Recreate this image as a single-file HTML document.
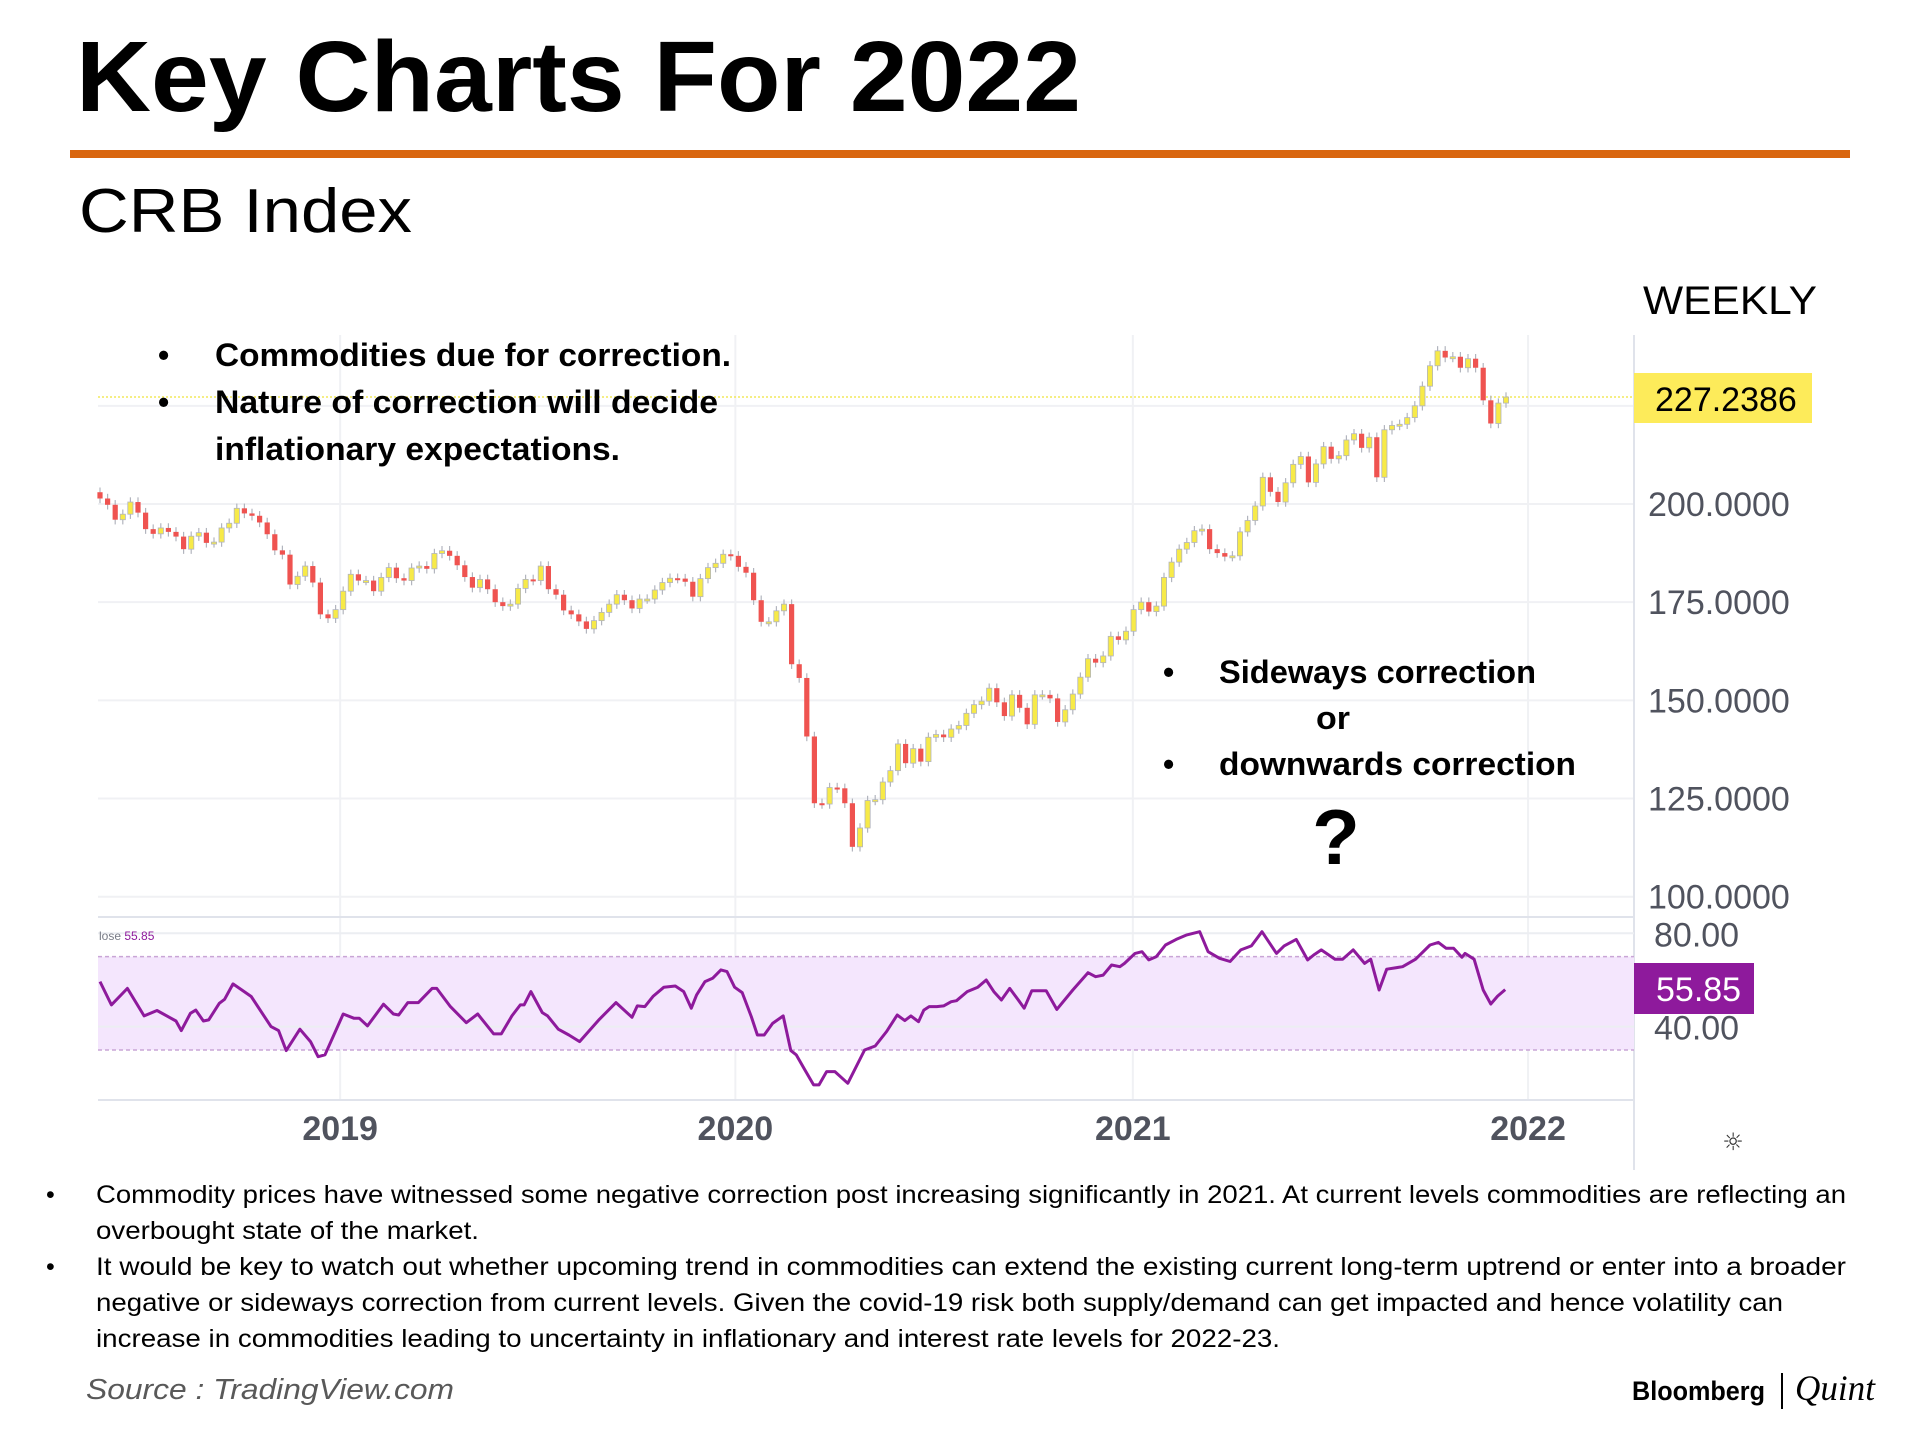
<!DOCTYPE html>
<html><head><meta charset="utf-8"><style>
html,body{margin:0;padding:0;background:#fff;}
svg{display:block;}
</style></head><body>
<svg id="root" width="1920" height="1435" viewBox="0 0 1920 1435" xmlns="http://www.w3.org/2000/svg">
<text x="76" y="111" font-family="Liberation Sans, sans-serif" font-weight="bold" font-size="100" textLength="1005" lengthAdjust="spacingAndGlyphs" fill="#000">Key Charts For 2022</text>
<rect x="70" y="150" width="1780" height="8" fill="#d9660f"/>
<text x="79" y="232" font-family="Liberation Sans, sans-serif" font-size="62" textLength="333" lengthAdjust="spacingAndGlyphs" fill="#000">CRB Index</text>
<text x="1643" y="314" font-family="Liberation Sans, sans-serif" font-size="40" textLength="174" lengthAdjust="spacingAndGlyphs" fill="#000">WEEKLY</text>
<g id="chart"></g>
<g font-family="Liberation Sans, sans-serif" font-weight="bold" font-size="32" fill="#000">
<text x="158" y="366">•</text><text x="215" y="366" textLength="516" lengthAdjust="spacingAndGlyphs">Commodities due for correction.</text>
<text x="158" y="413">•</text><text x="215" y="413" textLength="503" lengthAdjust="spacingAndGlyphs">Nature of correction will decide</text>
<text x="215" y="460" textLength="405" lengthAdjust="spacingAndGlyphs">inflationary expectations.</text>
</g>
<g font-family="Liberation Sans, sans-serif" font-weight="bold" font-size="32" fill="#000">
<text x="1163" y="683">•</text><text x="1219" y="683" textLength="317" lengthAdjust="spacingAndGlyphs">Sideways correction</text>
<text x="1316" y="729" textLength="34" lengthAdjust="spacingAndGlyphs">or</text>
<text x="1163" y="775">•</text><text x="1219" y="775" textLength="357" lengthAdjust="spacingAndGlyphs">downwards correction</text>
<text x="1336" y="864" text-anchor="middle" font-size="78">?</text>
</g>
<g font-family="Liberation Sans, sans-serif" font-size="25" fill="#000">
<text x="46" y="1203">•</text><text x="96" y="1203" textLength="1750" lengthAdjust="spacingAndGlyphs">Commodity prices have witnessed some negative correction post increasing significantly in 2021. At current levels commodities are reflecting an</text>
<text x="96" y="1239" textLength="383" lengthAdjust="spacingAndGlyphs">overbought state of the market.</text>
<text x="46" y="1275">•</text><text x="96" y="1275" textLength="1750" lengthAdjust="spacingAndGlyphs">It would be key to watch out whether upcoming trend in commodities can extend the existing current long-term uptrend or enter into a broader</text>
<text x="96" y="1311" textLength="1687" lengthAdjust="spacingAndGlyphs">negative or sideways correction from current levels. Given the covid-19 risk both supply/demand can get impacted and hence volatility can</text>
<text x="96" y="1347" textLength="1184" lengthAdjust="spacingAndGlyphs">increase in commodities leading to uncertainty in inflationary and interest rate levels for 2022-23.</text>
</g>
<text x="86" y="1399" font-family="Liberation Sans, sans-serif" font-style="italic" font-size="29" fill="#595959" textLength="368" lengthAdjust="spacingAndGlyphs">Source : TradingView.com</text>
<g>
<text x="1632" y="1400" font-family="Liberation Sans, sans-serif" font-weight="bold" font-size="27" textLength="133" lengthAdjust="spacingAndGlyphs" fill="#000">Bloomberg</text>
<rect x="1781" y="1373" width="2" height="36" fill="#000"/>
<text x="1795" y="1400" font-family="Liberation Serif, serif" font-style="italic" font-size="36" textLength="80" lengthAdjust="spacingAndGlyphs" fill="#000">Quint</text>
</g>
</svg>
<script>
const closes=[201.4,199.8,196.0,197.4,200.5,197.8,193.6,192.4,193.9,192.9,191.7,188.5,191.8,192.7,190.1,190.3,193.9,195.1,198.9,197.6,197.0,195.3,192.3,188.2,187.1,179.5,181.6,184.2,180.0,171.9,170.9,173.1,177.8,182.1,180.5,180.5,177.8,181.3,183.8,181.1,180.5,183.7,184.2,183.5,187.4,188.1,186.8,184.4,181.4,178.7,180.8,178.3,175.0,174.0,174.5,178.5,180.8,180.5,184.2,178.3,176.9,172.9,171.9,170.1,168.2,170.3,172.4,174.5,176.9,175.5,173.4,175.8,175.8,178.1,180.0,181.1,181.0,180.2,176.4,181.0,183.8,184.9,187.2,186.8,184.0,182.5,175.5,170.0,170.0,172.8,174.5,159.2,155.7,140.8,123.8,123.6,127.8,127.6,123.8,112.7,117.5,124.5,124.7,129.2,
132.1,138.9,134.0,137.7,134.4,140.6,141.3,140.6,142.7,143.6,146.7,148.9,149.8,153.1,149.5,146.0,151.4,148.1,143.9,151.4,151.4,150.5,144.5,147.6,151.6,155.9,160.6,159.6,161.3,166.3,165.4,167.6,173.1,175.0,172.6,174.0,181.3,185.2,188.5,190.2,193.2,193.6,188.5,187.5,186.6,186.8,192.9,195.8,199.5,206.8,203.1,200.5,205.4,210.1,212.1,205.5,210.2,214.6,211.5,212.3,216.3,217.9,214.3,217.0,206.8,218.9,220.0,220.3,222.0,225.0,230.0,235.2,239.0,237.3,237.5,234.7,237.0,234.7,226.4,220.5,225.7,227.24];
const firstOpen=203.0;
const rsiWeeks=[0,1.5,3.6,5.8,7.5,10.0,10.7,11.9,12.6,13.6,14.3,15.7,16.4,17.5,18.5,19.9,22.5,23.5,24.5,26.3,27.7,28.7,29.6,32.0,33.4,34.1,35.2,37.3,38.6,39.3,40.5,41.9,43.7,44.3,46.1,48.2,49.7,51.8,52.8,54.2,55.3,55.8,56.7,58.2,58.9,60.3,61.7,63.1,65.7,67.9,70.0,70.7,71.7,72.8,74.2,75.7,76.8,77.8,78.5,79.6,80.6,81.7,82.5,83.5,84.5,85.7,86.5,87.4,88.5,89.9,90.9,91.6,92.7,93.9,94.6,95.6,96.7,98.4,100.6,102.0,103.5,104.9,105.9,106.7,107.7,108.4,109.1,110.1,111.0,112.0,112.7,114.1,115.5,116.6,117.6,118.6,119.7,120.9,121.6,122.6,124.5,125.9,128.0,130.0,131.0,132.0,133.1,134.2,134.8,136.2,137.1,138.0,139.0,140.2,141.6,143.0,144.7,145.8,147.3,148.7,150.1,151.5,152.9,154.8,155.8,157.4,158.9,159.7,160.7,162.5,163.5,164.9,166.4,167.2,168.3,169.3,171.4,173.1,175.0,176.1,177.1,178.1,179.2,179.6,180.8,182.0,183.0,183.9,184.9];
const rsiVals=[59.3,49.3,56.4,44.6,46.9,42.4,38.3,45.7,47.1,42.4,42.9,50,51.7,58.3,56.1,52.9,40,38.3,29.7,38.9,33.6,27.1,27.9,45.4,43.6,43.6,40.3,49.6,45.4,45,50.3,50.3,56.4,56.4,48.6,41.7,45.4,36.9,36.9,44.6,49.3,49.3,55,46,44.6,38.9,36.4,33.6,43.1,50.3,44,48.9,48.6,53.1,56.9,57.4,55,47.9,53.6,59.3,60.7,64.3,63.6,56.9,54.6,44.3,36.4,36.4,41.4,44.6,29.7,27.9,21.7,15,15,20.7,20.7,15.7,30,31.7,37.9,45,42.6,44.6,42.1,47.1,48.6,48.6,48.9,50.7,51.1,55,56.9,60,55,51.4,56.4,51.1,47.9,55.4,55.4,47.4,55.7,63.1,61.4,62.1,66.4,65.7,67.1,71.4,72.1,68.6,70,75,77.4,79.3,80.7,72.1,69.3,67.9,72.9,74.6,80.7,71.4,74.6,77.4,68.6,70.7,72.9,68.9,68.9,72.9,67.1,68.9,55.7,64.6,65.7,68.9,75,76.1,73.6,73.6,69.7,71.4,68.9,55.7,49.7,53.1,55.85];
const priceTicks=[100,125,150,175,200,225];
const priceTickLabels=["100.0000","125.0000","150.0000","175.0000","200.0000",""];
const rsiTicks=[40,80];
const rsiTickLabels=["40.00","80.00"];
const yearLabels=["2019","2020","2021","2022"];
const yearWeek=[31.6,83.6,135.9,187.9];
const lastPrice=227.2386;
const lastRsi=55.85;

const NS="http://www.w3.org/2000/svg";
const g=document.getElementById('chart');
const X0=100, STEP=7.6, PL=98, PR=1634;
function xw(w){return X0+w*STEP;}
function yp(p){return 504-(p-200)*3.927;}
function yr(v){return 933.3-(v-80)*2.333;}
function mk(tag,attrs,parent){const e=document.createElementNS(NS,tag);for(const k in attrs)e.setAttribute(k,attrs[k]);(parent||g).appendChild(e);return e;}

priceTicks.forEach(function(t,i){
  const l=mk('line',{x1:PL,x2:PR,y1:yp(t),y2:yp(t),stroke:'#f0f1f4','stroke-width':2});
  
  
  if(priceTickLabels[i]){
    const tx=mk('text',{x:1648,y:yp(t)+12,'font-family':'Liberation Sans, sans-serif','font-size':34,fill:'#50535e'});
    tx.textContent=priceTickLabels[i];
    
    
  }
});
yearWeek.forEach(function(w,i){
  const l=mk('line',{x1:xw(w),x2:xw(w),y1:335,y2:1100,stroke:'#f0f1f4','stroke-width':2});
  
  
  const tx=mk('text',{x:xw(w),y:1140,'text-anchor':'middle','font-family':'Liberation Sans, sans-serif','font-weight':'bold','font-size':34,fill:'#50535e'});
  tx.textContent=yearLabels[i];
  
  
});
let s1=mk('line',{x1:PR,x2:PR,y1:335,y2:1170,stroke:'#e0e3eb','stroke-width':2});


let s2=mk('line',{x1:PL,x2:PR,y1:917,y2:917,stroke:'#e0e3eb','stroke-width':2});


let s3=mk('line',{x1:PL,x2:PR,y1:1100,y2:1100,stroke:'#e0e3eb','stroke-width':2});



let lp=mk('line',{x1:PL,x2:PR,y1:yp(lastPrice),y2:yp(lastPrice),stroke:'#f2e85a','stroke-width':1.5,'stroke-dasharray':'2 2'});



closes.forEach(function(c,i){
  const o=i===0?firstOpen:closes[i-1];
  const up=c>=o;
  const x=xw(i);
  const hi=Math.max(o,c)+1.2, lo=Math.min(o,c)-1.2;
  const w=mk('line',{x1:x,x2:x,y1:yp(hi),y2:yp(lo),stroke:'#b2b5be','stroke-width':1.2});
  
  
  const top=yp(Math.max(o,c)), h=Math.max(2,yp(Math.min(o,c))-top);
  const b=mk('rect',{x:x-2.6,y:top,width:5.2,height:h,fill:up?'#f7ea48':'#ef5350',stroke:up?'#b2b5be':'none','stroke-width':0.8});
  
  
});

let pl=mk('rect',{x:1634,y:373,width:178,height:50,fill:'#fdeb5a'});


let plt=mk('text',{x:1655,y:411,'font-family':'Liberation Sans, sans-serif','font-size':34,fill:'#000'});
plt.textContent=lastPrice.toFixed(4);



let band=mk('rect',{x:PL,y:yr(70),width:PR-PL,height:yr(30)-yr(70),fill:'#f4e6fd'});


[70,30].forEach(function(v){
  const l=mk('line',{x1:PL,x2:PR,y1:yr(v),y2:yr(v),stroke:'#c9a5d6','stroke-width':1.5,'stroke-dasharray':'4 3'});
  
  
});
rsiTicks.forEach(function(t,i){
  const l=mk('line',{x1:PL,x2:PR,y1:yr(t),y2:yr(t),stroke:'#eceef2','stroke-width':2});
  
  
  const tx=mk('text',{x:1654,y:yr(t)+13,'font-family':'Liberation Sans, sans-serif','font-size':34,fill:'#50535e'});
  tx.textContent=rsiTickLabels[i];
  
  
});
let pts=rsiWeeks.map(function(w,i){return xw(w).toFixed(1)+','+yr(rsiVals[i]).toFixed(1);}).join(' ');
let rl=mk('polyline',{points:pts,fill:'none',stroke:'#8e1a9c','stroke-width':3,'stroke-linejoin':'round'});


let rb=mk('rect',{x:1634,y:963,width:120,height:51,fill:'#8e1a9c'});


let rbt=mk('text',{x:1656,y:1001,'font-family':'Liberation Sans, sans-serif','font-size':34,fill:'#fff'});
rbt.textContent=lastRsi.toFixed(2);


let leg=mk('text',{x:99,y:940,'font-family':'Liberation Sans, sans-serif','font-size':12,fill:'#787b86'});
leg.innerHTML='lose <tspan fill="#8e1a9c">'+lastRsi.toFixed(2)+'</tspan>';


let gear=mk('text',{x:1733,y:1150,'text-anchor':'middle','font-family':'DejaVu Sans, sans-serif','font-size':24,fill:'#333'});
gear.textContent='☼';


</script>
</body></html>
